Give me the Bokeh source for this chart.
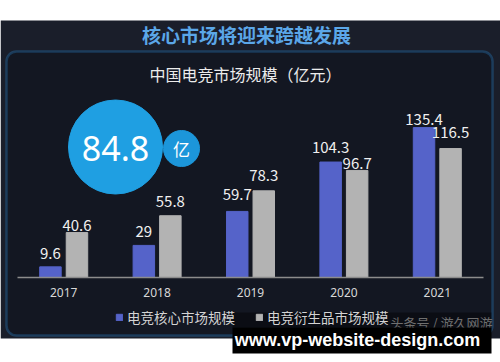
from bokeh.plotting import figure
from bokeh.models import (FactorRange, Range1d, ColumnDataSource, LabelSet, Label,
                          BoxAnnotation, Legend, LegendItem, CategoricalAxis)
from bokeh.transform import dodge
from bokeh.embed import file_html
from bokeh.resources import INLINE
from bokeh.core.properties import value

# ---- data ----
years = ["2017", "2018", "2019", "2020", "2021"]
core = [9.6, 29, 59.7, 104.3, 135.4]
deriv = [40.6, 55.8, 78.3, 96.7, 116.5]
series_names = ["电竞核心市场规模", "电竞衍生品市场规模"]
heading = "核心市场将迎来跨越发展"
chart_title = "中国电竞市场规模（亿元）"
highlight_value = "84.8"
highlight_unit = "亿"
source_note = "头条号 / 游久网游"
watermark = "www.vp-website-design.com"

# ---- style ----
BLUE = "#5563c9"
GRAY = "#b3b3b3"
OUTER_BG = "#1a1e2a"
INNER_BG = "#131722"
FRAME = "#2a8bd6"
CJK = "Noto Sans CJK SC"
core_label_offsets = [8, 8, 11, 9, 3]      # px gap between bar top and value label
deriv_label_offsets = [2, 9, 10, 1, 11]

W, H = 500, 362
PAD = 0.1767                     # half padding (category units) on each side
UNIT = W / (len(years) + 2 * PAD)
BASE_PX = 277                    # page row of the baseline
SCALE = 1.107                    # px per unit value

src = ColumnDataSource(dict(
    year=years, core=core, deriv=deriv,
    core_txt=[f"{v:g}" for v in core],
    deriv_txt=[f"{v:g}" for v in deriv],
    core_off=core_label_offsets, deriv_off=deriv_label_offsets,
))

p = figure(width=W, height=H,
           x_range=FactorRange(*years, range_padding=2 * PAD / len(years)),
           y_range=Range1d(-(H - BASE_PX) / SCALE, BASE_PX / SCALE),
           output_backend="svg", toolbar_location=None, y_axis_location=None,
           x_axis_location=None, min_border=0)
p.min_border_left = p.min_border_right = p.min_border_top = p.min_border_bottom = 0
p.background_fill_color = "white"
p.border_fill_color = "white"
p.outline_line_color = None
p.grid.visible = False


def X(px):
    """page pixel column -> synthetic categorical coordinate"""
    return -PAD + px / UNIT


# page-pixel helper y range for decorations
p.extra_y_ranges = {"py": Range1d(H, 0)}
PY = dict(y_range_name="py")

# backgrounds
p.add_layout(BoxAnnotation(left=X(0), right=X(W), top=20, bottom=338,
                           fill_color=OUTER_BG, fill_alpha=1, line_color=None,
                           level="underlay", **PY))
p.add_layout(BoxAnnotation(left=X(6), right=X(492), top=51, bottom=335,
                           fill_color=INNER_BG, fill_alpha=1, line_color=FRAME,
                           line_width=2.5, border_radius=10, level="underlay", **PY))

# categorical x axis, fixed at the baseline
ax = CategoricalAxis(fixed_location=0, bounds=(0, len(years)))
ax.axis_line_color = "#8c8c8c"
ax.axis_line_width = 1.5
ax.major_tick_line_color = None
ax.minor_tick_line_color = None
ax.major_tick_out = 0
ax.major_tick_in = 0
ax.major_label_standoff = 10
ax.major_label_text_color = "#d8d8d8"
ax.major_label_text_font = "Noto Sans"
ax.major_label_text_font_size = "12px"
p.add_layout(ax, "below")

# bars
r_core = p.vbar(x=dodge("year", -0.142, range=p.x_range), top="core", width=0.23,
                source=src, color=BLUE)
r_deriv = p.vbar(x=dodge("year", 0.142, range=p.x_range), top="deriv", width=0.23,
                 source=src, color=GRAY)

for field, off in (("core", -0.142), ("deriv", 0.142)):
    p.add_layout(LabelSet(x=dodge("year", off, range=p.x_range), y=field,
                          text=field + "_txt", source=src, y_offset=field + "_off",
                          text_align="center", text_baseline="bottom",
                          text_color="#f0f0f0", text_font=value(CJK),
                          text_font_size="15px"))

# bubble callout
p.scatter(x=[X(181)], y=[148], size=36, marker="circle", color="#1c96da", **PY)
p.scatter(x=[X(115)], y=[146.5], size=94, marker="circle", color="#1f9fe2", **PY)
p.add_layout(Label(x=X(115), y=148, text=highlight_value, text_align="center",
                   text_baseline="middle", text_color="white", text_font="Noto Sans",
                   text_font_size="34px", **PY))
p.add_layout(Label(x=X(181), y=148, text=highlight_unit, text_align="center",
                   text_baseline="middle", text_color="white", text_font=CJK,
                   text_font_size="17px", **PY))

# titles
p.add_layout(Label(x=X(246), y=34, text=heading, text_align="center",
                   text_baseline="middle", text_color="#5ba7e8", text_font=CJK,
                   text_font_style="bold", text_font_size="19px", **PY))
p.add_layout(Label(x=X(245), y=73, text=chart_title, text_align="center",
                   text_baseline="middle", text_color="#ececec", text_font=CJK,
                   text_font_size="16px", **PY))

# legend
legend = Legend(items=[LegendItem(label=series_names[0], renderers=[r_core]),
                       LegendItem(label=series_names[1], renderers=[r_deriv])],
                orientation="horizontal", location=(115, 35),
                glyph_width=8, glyph_height=8, label_standoff=4, spacing=20,
                padding=0, margin=0, label_height=16,
                label_text_font=CJK, label_text_font_size="13.5px",
                label_text_color="#d4d4d4", background_fill_alpha=0,
                border_line_color=None)
p.add_layout(legend)

# watermark overlays
p.add_layout(BoxAnnotation(left=X(232), right=X(491), top=312, bottom=327,
                           fill_color="black", fill_alpha=0.4, line_color=None,
                           level="overlay", **PY))
p.add_layout(Label(x=X(492), y=322, text=source_note, text_align="right",
                   text_baseline="middle", text_color="#6f6f6f", text_font=CJK,
                   text_font_size="13px", level="overlay", **PY))
p.add_layout(BoxAnnotation(left=X(232), right=X(491), top=327, bottom=353,
                           fill_color="black", fill_alpha=1, line_color=None,
                           level="overlay", **PY))
p.add_layout(Label(x=X(357), y=339, text=watermark, text_align="center",
                   text_baseline="middle", text_color="white",
                   text_font="Liberation Sans", text_font_style="bold",
                   text_font_size="18px", level="overlay", **PY))

open("out.html", "w").write(file_html(p, INLINE))
